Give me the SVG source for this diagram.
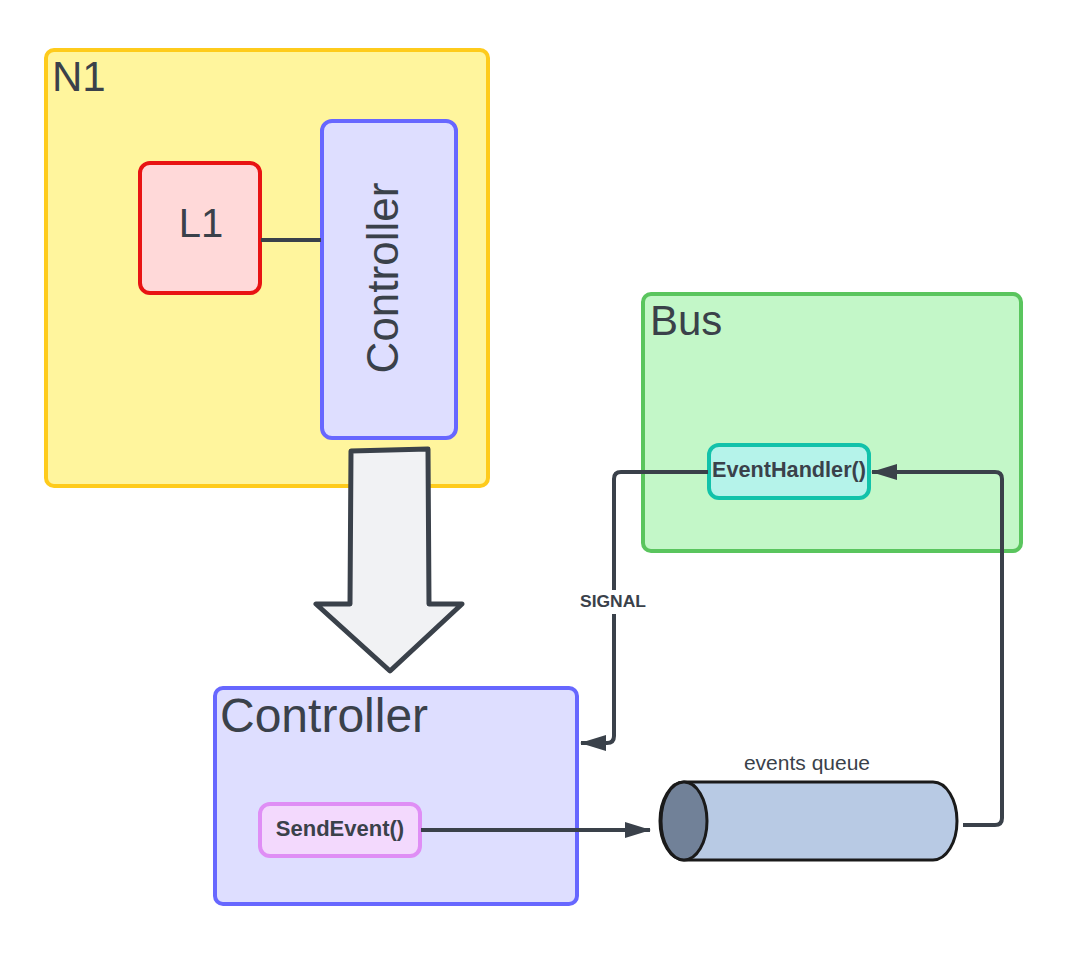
<svg xmlns="http://www.w3.org/2000/svg" width="1083" height="975" viewBox="0 0 1083 975">
<defs>
<style>
.t{font-family:"Liberation Sans",Arial,sans-serif;fill:#3a414a}
.b{font-weight:bold}
.c{fill:none;stroke:#3a414a;stroke-width:4;stroke-linejoin:round}
</style>
<marker id="ah" viewBox="0 0 26 16" refX="25" refY="8" markerWidth="26" markerHeight="16" markerUnits="userSpaceOnUse" orient="auto">
<path d="M0,0 L26,8 L0,16 Z" fill="#3a414a"/>
</marker>
</defs>
<rect width="1083" height="975" fill="#ffffff"/>
<g id="N1">
<rect x="46" y="50" width="442" height="436" rx="8" fill="#fff59d" stroke="#fecb1c" stroke-width="4"/>
<text class="t" x="52" y="91" font-size="42">N1</text>
</g>
<g id="L1">
<rect x="140" y="163" width="120" height="130" rx="10" fill="#ffd9d9" stroke="#e81313" stroke-width="4"/>
<text class="t" x="201" y="237" font-size="40" text-anchor="middle">L1</text>
</g>
<g id="ControllerV">
<rect x="322" y="121" width="134" height="317" rx="10" fill="#dedeff" stroke="#6767ff" stroke-width="4"/>
<text class="t" transform="translate(398,278) rotate(-90)" font-size="44" text-anchor="middle">Controller</text>
</g>
<g id="Bus">
<rect x="643" y="294" width="378" height="257" rx="8" fill="#c3f7c8" stroke="#5ac55e" stroke-width="4"/>
<text class="t" x="650" y="335" font-size="42">Bus</text>
</g>
<g id="EventHandler">
<rect x="709" y="445" width="160" height="53" rx="10" fill="#b5f3ea" stroke="#12c2aa" stroke-width="4"/>
<text class="t b" x="712" y="477" font-size="22" textLength="154" lengthAdjust="spacingAndGlyphs">EventHandler()</text>
</g>
<g id="ControllerBox">
<rect x="215" y="688" width="362" height="216" rx="8" fill="#dedeff" stroke="#6767ff" stroke-width="4"/>
<text class="t" x="220" y="732" font-size="48">Controller</text>
</g>
<g id="SendEvent">
<rect x="260" y="804" width="160" height="52" rx="10" fill="#f3d9fd" stroke="#df8ef5" stroke-width="4"/>
<text class="t b" x="340" y="836" font-size="22" text-anchor="middle">SendEvent()</text>
</g>
<g id="BlockArrow">
<path d="M351,451 L428,449 L429,604 L462,604 L390,671 L316,604 L350,604 Z" fill="#f1f2f4" stroke="#3a414a" stroke-width="5" stroke-linejoin="round"/>
</g>
<g id="EventsQueue">
<path d="M684,782 L933,782 A24,39 0 0 1 933,860 L684,860 A24,39 0 0 1 684,782 Z" fill="#b8cae4" stroke="#1a1a1a" stroke-width="3"/>
<ellipse cx="684" cy="821" rx="23" ry="39" fill="#718198" stroke="#1a1a1a" stroke-width="3"/>
<text class="t" x="807" y="770" font-size="21" text-anchor="middle">events queue</text>
</g>
<g id="connectors">
<path class="c" d="M261,240 L321,240"/>
<path class="c" d="M708,472 L621,472 Q614,472 614,479 L614,736 Q614,743 607,743 L581,743" marker-end="url(#ah)"/>
<rect x="574" y="590" width="78" height="24" fill="#ffffff"/>
<text class="t b" x="580" y="607" font-size="17" textLength="66" lengthAdjust="spacingAndGlyphs">SIGNAL</text>
<path class="c" d="M421,830 L650,830" marker-end="url(#ah)"/>
<path class="c" d="M963,825 L995,825 Q1002,825 1002,818 L1002,479 Q1002,472 995,472 L872,472" marker-end="url(#ah)"/>
</g>
</svg>
